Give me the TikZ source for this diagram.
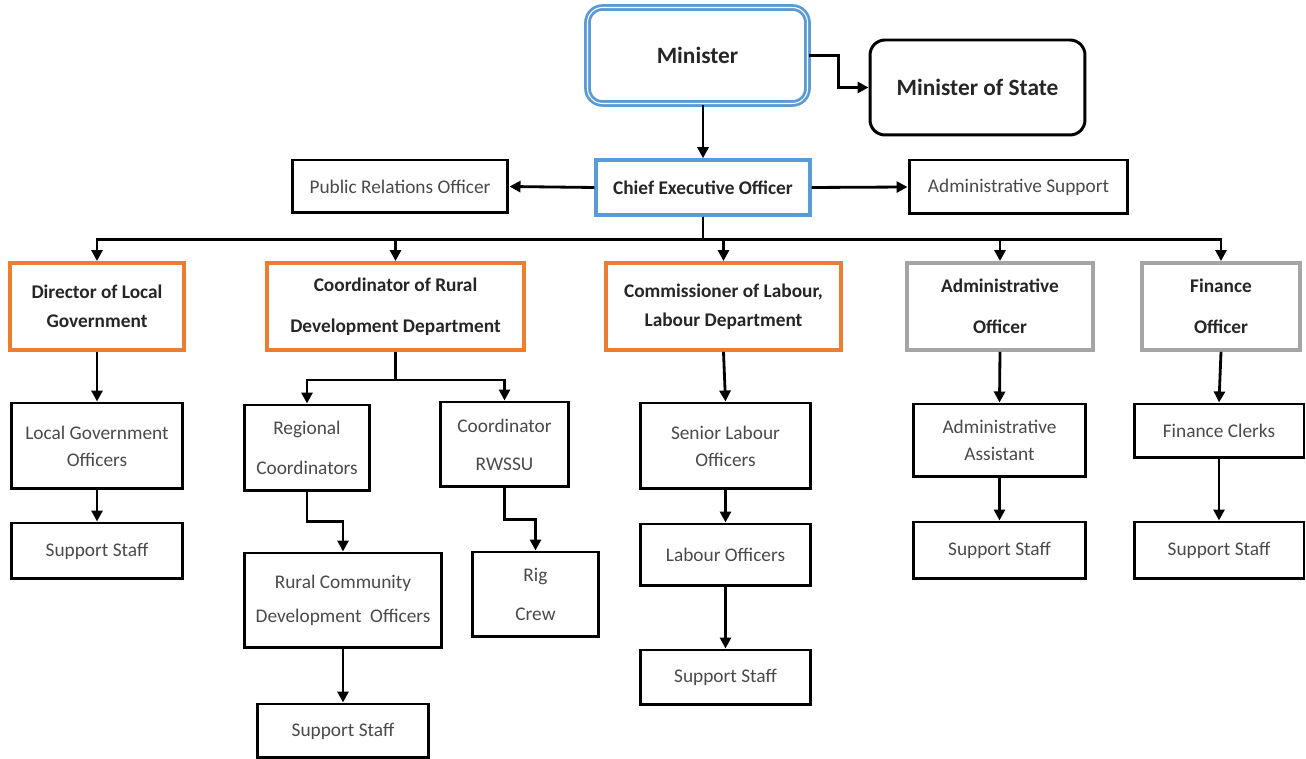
\documentclass[tikz,border=0pt]{standalone}
\usepackage{fontspec}
\setmainfont{Carlito}
\usepackage{xcolor}
\usetikzlibrary{arrows.meta}
\definecolor{minblue}{HTML}{5B9BD5}
\definecolor{headorange}{HTML}{ED7D31}
\definecolor{headgray}{HTML}{A5A5A5}
\definecolor{stafftext}{HTML}{4A4A4A}
\tikzset{
  box/.style={draw=black, line width=1.7pt, fill=white, inner sep=0pt, align=center,
    font=\fontsize{11}{13.5}\selectfont, text=stafftext},
  headbox/.style={box, font=\bfseries\fontsize{11}{13.5}\selectfont, text=black!85},
  orangebox/.style={headbox, draw=headorange, line width=2.2pt},
  graybox/.style={headbox, draw=headgray, line width=2.2pt},
  link/.style={line width=1.6pt, -{Triangle[length=2.2mm,width=2.2mm]}}
}
\begin{document}
\begin{tikzpicture}[x=0.02cm, y=-0.02cm]
\useasboundingbox (0,0) rectangle (1306,759);

% Top
\node[headbox, draw=minblue, line width=1.6pt, double=white, double distance=0.6pt,
  rounded corners=0.3cm, minimum width=4.40cm, minimum height=1.92cm,
  font=\bfseries\fontsize{13.3}{16}\selectfont] (min) at (697.5,55.5) {Minister};
\node[headbox, rounded corners=0.3cm, minimum width=4.30cm, minimum height=1.90cm,
  font=\bfseries\fontsize{13.3}{16}\selectfont] (mos) at (977.5,87.5) {Minister of State};

% CEO row
\node[headbox, draw=minblue, line width=2pt, minimum width=4.28cm, minimum height=1.10cm] (ceo) at (703,187.5) {Chief Executive Officer};
\node[box, minimum width=4.32cm, minimum height=1.06cm] (pro) at (400,186.5) {Public Relations Officer};
\node[box, minimum width=4.38cm, minimum height=1.08cm] (ads) at (1018.5,187) {Administrative Support};

% Heads
\node[orangebox, minimum width=3.48cm, minimum height=1.74cm] (dlg) at (97,306.5) {Director of Local\\[3pt]Government};
\node[orangebox, minimum width=5.14cm, minimum height=1.74cm] (crd) at (395.5,306.5) {Coordinator of Rural\\[10pt]Development Department};
\node[orangebox, minimum width=4.70cm, minimum height=1.74cm] (col) at (723.5,306.5) {Commissioner of Labour,\\[3pt]Labour Department};
\node[graybox, minimum width=3.72cm, minimum height=1.74cm] (ado) at (1000,306.5) {Administrative\\[10pt]Officer};
\node[graybox, minimum width=3.16cm, minimum height=1.74cm] (fio) at (1221,306.5) {Finance\\[10pt]Officer};

% Local government
\node[box, minimum width=3.44cm, minimum height=1.72cm] (lgo) at (97,446) {Local Government\\[2pt]Officers};
\node[box, minimum width=3.44cm, minimum height=1.12cm] (ss1) at (97,551) {Support Staff};

% Rural development
\node[box, minimum width=2.52cm, minimum height=1.72cm] (rgc) at (307,448) {Regional\\[9pt]Coordinators};
\node[box, minimum width=2.58cm, minimum height=1.70cm] (rws) at (504.5,444.5) {Coordinator\\[8pt]RWSSU};
\node[box, minimum width=3.96cm, minimum height=1.90cm] (rcd) at (343,600.5) {Rural Community\\[6pt]Development\ \ Officers};
\node[box, minimum width=2.54cm, minimum height=1.70cm] (rig) at (535.5,594.5) {Rig\\[9pt]Crew};
\node[box, minimum width=3.44cm, minimum height=1.08cm] (ss2) at (343,731) {Support Staff};

% Labour
\node[box, minimum width=3.42cm, minimum height=1.72cm] (slo) at (725.5,446) {Senior Labour\\[2pt]Officers};
\node[box, minimum width=3.42cm, minimum height=1.24cm] (lbo) at (725.5,555) {Labour Officers};
\node[box, minimum width=3.42cm, minimum height=1.10cm] (ss3) at (725.5,677.5) {Support Staff};

% Administration and finance
\node[box, minimum width=3.46cm, minimum height=1.46cm] (aas) at (999.5,440.5) {Administrative\\[2pt]Assistant};
\node[box, minimum width=3.46cm, minimum height=1.14cm] (ss4) at (999.5,550.5) {Support Staff};
\node[box, minimum width=3.40cm, minimum height=1.08cm] (fcl) at (1219,431) {Finance Clerks};
\node[box, minimum width=3.40cm, minimum height=1.14cm] (ss5) at (1219,550.5) {Support Staff};

% Connections
\draw[link] (min.east) -- ++(30,0) |- (mos.west);
\draw[link] (ceo.north |- min.south) -- (ceo.north);
\draw[link] (ceo.west) -- (pro.east);
\draw[link] (ceo.east) -- (ads.west);
\foreach \n in {dlg,crd,col,ado,fio}
  \draw[link] (ceo.south) -- ++(0,23) -| (\n.north);

\draw[link] (dlg.south) -- (lgo.north);
\draw[link] (lgo.south) -- (ss1.north);
\draw[link] (crd.south) -- ++(0,28) -| (rgc.north);
\draw[link] (crd.south) -- ++(0,28) -| (rws.north);
\draw[link] (rgc.south) -- ++(0,29) -| (rcd.north);
\draw[link] (rws.south) -- ++(0,31) -| (rig.north);
\draw[link] (rcd.south) -- (ss2.north);
\draw[link] (col.south) -- (slo.north);
\draw[link] (slo.south) -- (lbo.north);
\draw[link] (lbo.south) -- (ss3.north);
\draw[link] (ado.south) -- (aas.north);
\draw[link] (aas.south) -- (ss4.north);
\draw[link] (fio.south) -- (fcl.north);
\draw[link] (fcl.south) -- (ss5.north);
\end{tikzpicture}
\end{document}
